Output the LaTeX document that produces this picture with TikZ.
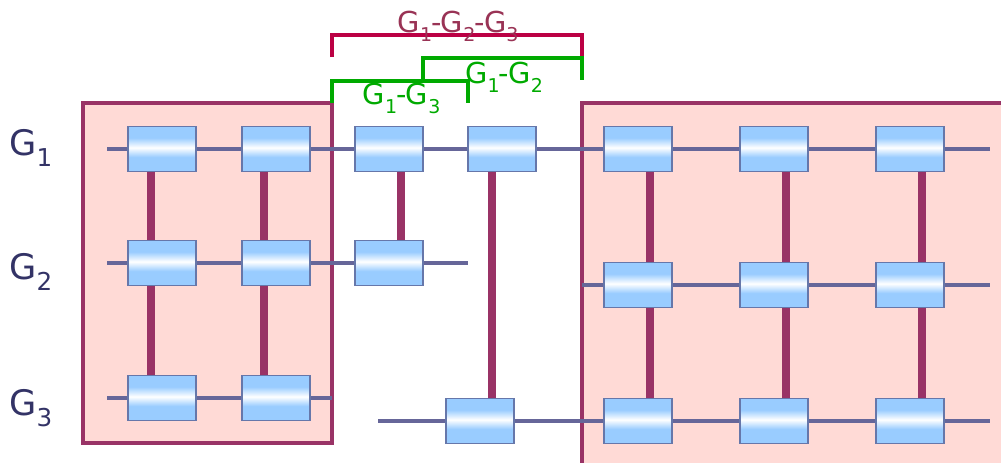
\documentclass[tikz,border=0pt]{standalone}
\usepackage{fontspec}
\setmainfont{DejaVu Sans}
\definecolor{pinkfill}{HTML}{FFDAD6}
\definecolor{framecol}{HTML}{993366}
\definecolor{wirecol}{HTML}{666699}
\definecolor{rodcol}{HTML}{993366}
\definecolor{boxblue}{HTML}{99CCFF}
\definecolor{boxedge}{HTML}{6677AA}
\definecolor{labelcol}{HTML}{333366}
\definecolor{redbr}{HTML}{BB0044}
\definecolor{redtext}{HTML}{993355}
\definecolor{greenbr}{HTML}{00AA00}
\pgfdeclareverticalshading{tube}{100bp}{color(0bp)=(boxblue); color(41bp)=(boxblue); color(51.5bp)=(white); color(62.5bp)=(boxblue); color(100bp)=(boxblue)}
\pgfdeclarelayer{back}
\pgfdeclarelayer{wires}
\pgfsetlayers{back,wires,main}
\newcommand\subscale{.7}
\newcommand\gsub[2]{#1\raisebox{-.58ex}{\scalebox{\subscale}{#2}}}
\newcommand\gdash{\kern-.03em-\kern-.03em}
\tikzset{
  qbox/.style={draw=boxedge, line width=0.8pt, shading=tube, minimum width=1.36cm, minimum height=0.9cm, inner sep=0pt},
  wire/.style={wirecol, line width=2.6pt},
  rod/.style={rodcol, line width=5pt},
  group/.style={fill=pinkfill, draw=framecol, line width=2.3pt},
  bracket/.style={line width=2.3pt},
  glabel/.style={labelcol, font=\fontsize{20}{24}\selectfont, anchor=base west, inner sep=0pt},
  blabel/.style={font=\fontsize{16.4}{19}\selectfont\renewcommand\subscale{.66}, anchor=base west, inner sep=0pt},
}
\begin{document}
\begin{tikzpicture}[x=0.02cm, y=-0.02cm]
\useasboundingbox (0,0) rectangle (1001,463);

\foreach \x/\n in {162/a,276/b}{
  \node[qbox] (\n1) at (\x,149) {};
  \node[qbox] (\n2) at (\x,263) {};
  \node[qbox] (\n3) at (\x,398) {};
}
\node[qbox] (c1) at (389,149) {};
\node[qbox] (c2) at (389,263) {};
\node[qbox] (d1) at (502,149) {};
\node[qbox] (d3) at (480,421) {};
\foreach \x/\n in {638/e,774/f,910/h}{
  \node[qbox] (\n1) at (\x,149) {};
  \node[qbox] (\n2) at (\x,285) {};
  \node[qbox] (\n3) at (\x,421) {};
}

\coordinate (w1a) at (107,149);
\coordinate (w1b) at (990,149);
\coordinate (w2a) at (107,263);
\coordinate (w2b) at (468,263);
\coordinate (w2c) at (582,285);
\coordinate (w2d) at (990,285);
\coordinate (w3a) at (107,398);
\coordinate (w3b) at (332,398);
\coordinate (w3c) at (378,421);
\coordinate (w3d) at (990,421);

\begin{pgfonlayer}{back}
  \draw[group] (83,103) rectangle (332,443);
  \draw[group] (582,103) rectangle (1010,475);
\end{pgfonlayer}

\begin{pgfonlayer}{wires}
  \draw[wire] (w1a) -- (a1) -- (b1) -- (c1) -- (d1) -- (e1) -- (f1) -- (h1) -- (w1b);
  \draw[wire] (w2a) -- (a2) -- (b2) -- (c2) -- (w2b);
  \draw[wire] (w2c) -- (e2) -- (f2) -- (h2) -- (w2d);
  \draw[wire] (w3a) -- (a3) -- (b3) -- (w3b);
  \draw[wire] (w3c) -- (d3) -- (e3) -- (f3) -- (h3) -- (w3d);
  \foreach \n/\s in {a/-.22,b/-.24,e/.24,f/.24,h/.24}
    \draw[rod] ([xshift=\s cm]\n1.south) -- ([xshift=\s cm]\n3.north);
  \draw[rod] ([xshift=.24cm]c1.south) -- ([xshift=.24cm]c2.north);
  \draw[rod] ([xshift=-.2cm]d1.south) -- ([xshift=-.2cm]d1.south |- d3.north);
\end{pgfonlayer}

\draw[bracket, redbr] (332,57) -- (332,35) -- (582,35) -- (582,58);
\draw[bracket, greenbr] (423,80) -- (423,58) -- (582,58) -- (582,80);
\draw[bracket, greenbr] (332,103) -- (332,81) -- (468,81) -- (468,103);

\node[glabel] (lg1) at (9,155) {\gsub{G}{1}};
\node[glabel] (lg2) at (9,279) {\gsub{G}{2}};
\node[glabel] (lg3) at (9,415) {\gsub{G}{3}};
\node[blabel, redtext] (l123) at (397.5,32) {\gsub{G}{1}\gdash\gsub{G}{2}\gdash\gsub{G}{3}};
\node[blabel, greenbr] (l13) at (362.5,104) {\gsub{G}{1}\gdash\gsub{G}{3}};
\node[blabel, greenbr] (l12) at (465,83) {\gsub{G}{1}\gdash\gsub{G}{2}};
\end{tikzpicture}
\end{document}
